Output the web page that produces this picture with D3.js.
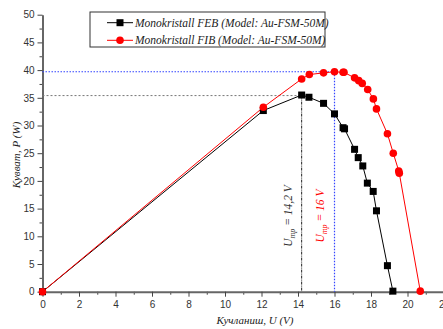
<!DOCTYPE html>
<html>
<head>
<meta charset="utf-8">
<script src="https://cdn.jsdelivr.net/npm/d3@7"></script>
<style>
  body { margin: 0; background: #fff; }
  .tick text { font-family: "Liberation Sans", Arial, sans-serif; font-size: 10px; fill: #333; }
  .axTitle, .legText, .ann { font-family: "Liberation Serif", "Times New Roman", serif; font-style: italic; }
</style>
</head>
<body>
<svg width="443" height="329"></svg>
<script>
// FEB (black squares) and FIB (red circles): voltage U (V) and power P (W)
var febU = [0, 12.1, 14.2, 14.6, 15.4, 16.0, 16.47, 16.55, 17.1, 17.3, 17.55, 17.8, 18.12, 18.3, 18.9, 19.2];
var febP = [0, 32.7, 35.5, 35.1, 34.0, 32.1, 29.6, 29.4, 25.7, 24.2, 22.7, 19.6, 18.1, 14.6, 4.7, 0.1];
var fibU = [0, 12.1, 14.2, 14.62, 15.4, 16.0, 16.47, 16.52, 17.1, 17.33, 17.52, 17.82, 18.13, 18.3, 18.9, 19.22, 19.52, 19.55, 20.7];
var fibP = [0, 33.3, 38.4, 39.2, 39.5, 39.7, 39.6, 39.6, 38.6, 38.1, 37.6, 36.5, 34.8, 33.0, 28.5, 25.0, 21.8, 21.4, 0.1];
var xTicks = [0, 2, 4, 6, 8, 10, 12, 14, 16, 18, 20, 22];
var yTicks = [0, 5, 10, 15, 20, 25, 30, 35, 40, 45, 50];
var seriesNames = ["Monokristall FEB (Model: Au-FSM-50M)", "Monokristall FIB (Model: Au-FSM-50M)"];
var mppU = [14.2, 16];
var mppP = [35.4, 39.7];

var svg = d3.select("svg");
var x = d3.scaleLinear().domain([0, 22]).range([42.5, 444]);
var y = d3.scaleLinear().domain([0, 50]).range([291.7, 14.7]);

// minor ticks
svg.append("g").attr("transform", "translate(0," + y(0) + ")")
    .call(d3.axisBottom(x).tickValues(d3.range(1, 22, 2)).tickSize(3).tickFormat(""))
    .call(function (g) { g.select(".domain").remove(); g.selectAll("line").attr("stroke", "#444"); });
svg.append("g").attr("transform", "translate(" + x(0) + ",0)")
    .call(d3.axisLeft(y).tickValues(d3.range(2.5, 50, 5)).tickSize(3).tickFormat(""))
    .call(function (g) { g.select(".domain").remove(); g.selectAll("line").attr("stroke", "#444"); });

var xAxis = svg.append("g").attr("transform", "translate(0," + y(0) + ")")
    .call(d3.axisBottom(x).tickValues(xTicks).tickSize(5).tickSizeOuter(0).tickPadding(4));
var yAxis = svg.append("g").attr("transform", "translate(" + x(0) + ",0)")
    .call(d3.axisLeft(y).tickValues(yTicks).tickSize(5).tickSizeOuter(0).tickPadding(3));
[xAxis, yAxis].forEach(function (a) {
  a.select(".domain").attr("stroke", "#666").attr("stroke-width", 2);
  a.selectAll(".tick line").attr("stroke", "#444");
});

// max power guide lines
svg.append("line").attr("x1", x(0)).attr("x2", x(mppU[0])).attr("y1", y(mppP[0])).attr("y2", y(mppP[0]))
    .attr("stroke", "#777").attr("stroke-dasharray", "2,2").attr("stroke-width", 1);
svg.append("line").attr("x1", x(mppU[0])).attr("x2", x(mppU[0])).attr("y1", y(mppP[0])).attr("y2", y(0))
    .attr("stroke", "#222").attr("stroke-dasharray", "3,1,1,1").attr("stroke-width", 1);
svg.append("line").attr("x1", x(0)).attr("x2", x(mppU[1])).attr("y1", y(mppP[1])).attr("y2", y(mppP[1]))
    .attr("stroke", "#3344ff").attr("stroke-dasharray", "1.5,1.5").attr("stroke-width", 1.2);
svg.append("line").attr("x1", x(mppU[1])).attr("x2", x(mppU[1])).attr("y1", y(mppP[1])).attr("y2", y(0))
    .attr("stroke", "#3344ff").attr("stroke-dasharray", "1.5,1.5").attr("stroke-width", 1.2);

var line = d3.line().x(function (d) { return x(d[0]); }).y(function (d) { return y(d[1]); });
var feb = d3.zip(febU, febP), fib = d3.zip(fibU, fibP);

svg.append("path").datum(feb).attr("d", line).attr("fill", "none").attr("stroke", "#000").attr("stroke-width", 1);
svg.append("path").datum(fib).attr("d", line).attr("fill", "none").attr("stroke", "#ff0000").attr("stroke-width", 1);

svg.selectAll(".sq").data(feb).enter().append("rect")
    .attr("x", function (d) { return x(d[0]) - 3.5; }).attr("y", function (d) { return y(d[1]) - 3.5; })
    .attr("width", 7).attr("height", 7).attr("fill", "#000");
svg.selectAll(".ci").data(fib).enter().append("circle")
    .attr("cx", function (d) { return x(d[0]); }).attr("cy", function (d) { return y(d[1]); })
    .attr("r", 3.8).attr("fill", "#ff0000");

// annotations
function ann(u, txt, col) {
  var t = svg.append("text").attr("class", "ann").attr("transform", "translate(" + x(u) + ",216) rotate(-90)")
      .attr("text-anchor", "middle").attr("font-size", 11.5).attr("fill", col);
  t.append("tspan").text("U");
  t.append("tspan").attr("font-size", 8).attr("dy", 3).text("mp");
  t.append("tspan").attr("dy", -3).text(" = " + txt);
}
ann(mppU[0] - 0.55, "14,2 V", "#333");
ann(mppU[1] - 0.55, "16 V", "#ff0000");

// legend
svg.append("rect").attr("x", 90).attr("y", 12).attr("width", 235).attr("height", 35)
    .attr("fill", "#fff").attr("stroke", "#333").attr("stroke-width", 1);
var legCols = ["#000", "#ff0000"];
seriesNames.forEach(function (name, i) {
  var ly = 22.7 + i * 17.6;
  svg.append("line").attr("x1", 107).attr("x2", 133).attr("y1", ly).attr("y2", ly).attr("stroke", legCols[i]);
  if (i === 0) svg.append("rect").attr("x", 116.5).attr("y", ly - 3.5).attr("width", 7).attr("height", 7).attr("fill", "#000");
  else svg.append("circle").attr("cx", 120).attr("cy", ly).attr("r", 3.8).attr("fill", "#ff0000");
  svg.append("text").attr("class", "legText").attr("x", 135).attr("y", ly + 4)
      .attr("font-size", 11.5).attr("fill", "#222").text(name);
});

// axis titles
svg.append("text").attr("class", "axTitle").attr("x", 255).attr("y", 324).attr("text-anchor", "middle")
    .attr("font-size", 11).attr("fill", "#222").text("Кучланиш, U (V)");
svg.append("text").attr("class", "axTitle").attr("transform", "translate(20,155) rotate(-90)")
    .attr("text-anchor", "middle").attr("font-size", 11).attr("fill", "#222").text("Қувват, P (W)");
</script>
</body>
</html>
